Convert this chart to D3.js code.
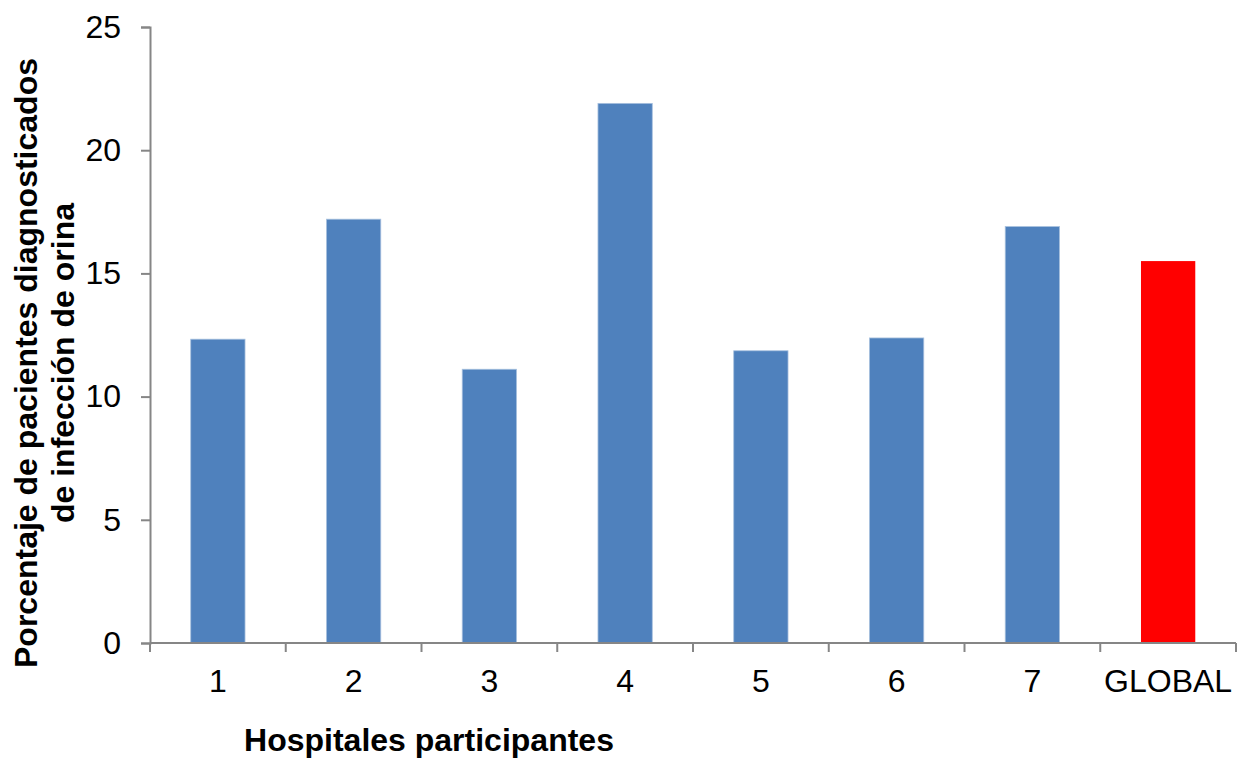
<!DOCTYPE html>
<html>
<head>
<meta charset="utf-8">
<script src="https://cdn.jsdelivr.net/npm/d3@7"></script>
<style>
  body { margin: 0; background: #fff; }
  svg { display: block; font-family: "Liberation Sans", Arial, sans-serif; }
</style>
</head>
<body>
<svg id="chart" width="1251" height="764"></svg>
<script>
// Hospitals and share of patients diagnosed with urinary infection (%)
const categories = ["1", "2", "3", "4", "5", "6", "7", "GLOBAL"];
const values = [12.33, 17.2, 11.11, 21.9, 11.86, 12.38, 16.9, 15.5];
const yTicks = [0, 5, 10, 15, 20, 25];

const svg = d3.select("#chart");
const margin = { left: 150, top: 27 };
const xEnd = 1236;
const fontSize = 32;

const x = d3.scaleBand().domain(categories)
  .range([margin.left, xEnd]).paddingInner(0.6).paddingOuter(0.3);
const xTick = d3.scaleBand().domain(categories).range([margin.left, xEnd]);
const y = d3.scaleLinear().domain([0, 25]).range([643, margin.top]);

const axisColor = "#868686";

// bars
svg.append("g").selectAll("rect").data(values).join("rect")
  .attr("x", (d, i) => x(categories[i]))
  .attr("y", d => y(d))
  .attr("width", x.bandwidth())
  .attr("height", d => y(0) - y(d))
  .attr("fill", (d, i) => categories[i] === "GLOBAL" ? "#FF0000" : "#4F81BD")
  .attr("stroke", (d, i) => categories[i] === "GLOBAL" ? "none" : "#A7C0DE")
  .attr("stroke-width", 0.8);

// y axis
const yAxis = svg.append("g").attr("transform", `translate(${margin.left},0)`)
  .call(d3.axisLeft(y).tickValues(yTicks).tickSize(9).tickPadding(20));
yAxis.select(".domain").attr("stroke", axisColor).attr("stroke-width", 2);
yAxis.selectAll(".tick line").attr("stroke", axisColor).attr("stroke-width", 2);
yAxis.selectAll(".tick text").attr("fill", "#000").attr("font-size", fontSize)
  .attr("font-family", "Liberation Sans, Arial, sans-serif");

// x axis with tick marks at category boundaries
const xAxis = svg.append("g").attr("transform", `translate(0,${y(0)})`);
xAxis.append("line").attr("x1", margin.left).attr("x2", xEnd)
  .attr("stroke", axisColor).attr("stroke-width", 2);
const bounds = categories.map(c => xTick(c)).concat([xEnd]);
xAxis.selectAll("line.tk").data(bounds).join("line").attr("class", "tk")
  .attr("x1", d => d).attr("x2", d => d).attr("y1", 0).attr("y2", 9)
  .attr("stroke", axisColor).attr("stroke-width", 2);
xAxis.selectAll("text").data(categories).join("text")
  .attr("x", d => x(d) + x.bandwidth() / 2)
  .attr("y", 49)
  .attr("text-anchor", "middle")
  .attr("font-size", fontSize)
  .attr("fill", "#000")
  .text(d => d);

// axis titles
svg.append("text")
  .attr("x", 429).attr("y", 751)
  .attr("text-anchor", "middle")
  .attr("font-size", fontSize).attr("font-weight", "bold")
  .text("Hospitales participantes");

const yt = svg.append("text")
  .attr("transform", "translate(0,363) rotate(-90)")
  .attr("text-anchor", "middle")
  .attr("font-size", fontSize).attr("font-weight", "bold");
yt.append("tspan").attr("x", 0).attr("y", 37).text("Porcentaje de pacientes diagnosticados");
yt.append("tspan").attr("x", 0).attr("y", 74).text("de infección de orina");
</script>
</body>
</html>
